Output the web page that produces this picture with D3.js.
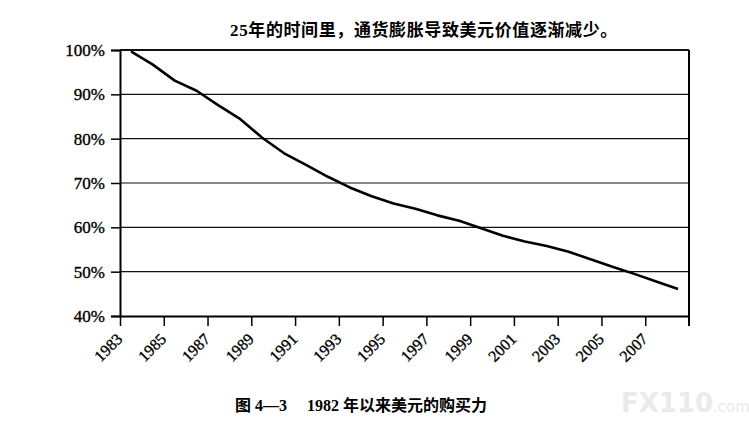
<!DOCTYPE html>
<html>
<head>
<meta charset="utf-8">
<script src="https://cdn.jsdelivr.net/npm/d3@7"></script>
<style>
  html, body { margin: 0; padding: 0; background: #fff; }
  svg { display: block; }
</style>
</head>
<body>
<svg id="chart" width="749" height="428"></svg>
<script>
// ---- data ----
const years = [1983,1984,1985,1986,1987,1988,1989,1990,1991,1992,1993,1994,1995,
               1996,1997,1998,1999,2000,2001,2002,2003,2004,2005,2006,2007,2008];
const purchasingPower = [99.7,96.7,93.1,90.8,87.5,84.4,80.2,76.7,74.1,71.4,69.0,67.0,65.4,
                         64.2,62.7,61.5,59.8,58.1,56.8,55.8,54.5,52.8,51.1,49.5,47.8,46.1];
const xTickYears = [1983,1985,1987,1989,1991,1993,1995,1997,1999,2001,2003,2005,2007];
const yTickValues = [40,50,60,70,80,90,100];
const titleText = "25年的时间里，通货膨胀导致美元价值逐渐减少。";
const captionLabel = "图 4—3";
const captionText = "1982 年以来美元的购买力";

// ---- layout ----
const svg = d3.select("#chart");
const plotLeft = 120, plotRight = 689, plotTop = 50, plotBottom = 316;

const x = d3.scaleLinear().domain([1983, 2009]).range([plotLeft, plotRight]);
const y = d3.scaleLinear().domain([40, 100]).range([plotBottom, plotTop]);

const serif = "'Liberation Serif', 'Times New Roman', serif";
const mixed = "'Liberation Serif', 'Noto Sans CJK SC', serif";

// gridlines
svg.append("g")
  .selectAll("line")
  .data(yTickValues.filter(v => v > 40))
  .join("line")
  .attr("x1", plotLeft).attr("x2", plotRight)
  .attr("y1", d => y(d)).attr("y2", d => y(d))
  .attr("stroke", "#111")
  .attr("stroke-width", d => d === 100 ? 2 : 1.2);

// right border (extends like a tick)
svg.append("line")
  .attr("x1", plotRight).attr("x2", plotRight)
  .attr("y1", plotTop).attr("y2", plotBottom + 10)
  .attr("stroke", "#000").attr("stroke-width", 2);

// y axis
const yAxis = svg.append("g")
  .attr("transform", `translate(${plotLeft},0)`)
  .call(d3.axisLeft(y).tickValues(yTickValues).tickFormat(d => d + "%").tickSize(9).tickPadding(6));
yAxis.select(".domain").attr("stroke", "#000").attr("stroke-width", 2);
yAxis.selectAll(".tick line").attr("stroke", "#000").attr("stroke-width", 1.5);
yAxis.selectAll(".tick text")
  .attr("fill", "#000")
  .style("font-family", serif)
  .style("font-size", "17px")
  .style("font-weight", "normal")
  .style("stroke", "#000")
  .style("stroke-width", "0.35px");

// x axis
const xAxis = svg.append("g")
  .attr("transform", `translate(0,${plotBottom})`)
  .call(d3.axisBottom(x).tickValues(xTickYears).tickFormat(d3.format("d")).tickSize(10).tickSizeOuter(0));
xAxis.select(".domain").attr("stroke", "#000").attr("stroke-width", 2);
xAxis.selectAll(".tick line").attr("stroke", "#000").attr("stroke-width", 1.5);
xAxis.selectAll(".tick text")
  .attr("fill", "#000")
  .style("font-family", serif)
  .style("font-size", "16px")
  .style("font-weight", "normal")
  .style("stroke", "#000")
  .style("stroke-width", "0.35px")
  .attr("text-anchor", "end")
  .attr("dy", null)
  .attr("y", 0)
  .attr("transform", "translate(3,24) rotate(-45)");

// line
const line = d3.line()
  .x((d, i) => x(years[i] + 0.5))
  .y(d => y(d));
svg.append("path")
  .datum(purchasingPower)
  .attr("d", line)
  .attr("fill", "none")
  .attr("stroke", "#000")
  .attr("stroke-width", 2.6)
  .attr("stroke-linejoin", "round");

// title
svg.append("text")
  .attr("x", 424).attr("y", 36)
  .attr("text-anchor", "middle")
  .style("font-family", mixed)
  .style("font-size", "17px")
  .style("font-weight", "bold")
  .style("letter-spacing", "0.6px")
  .text(titleText);

// caption
const cap = svg.append("text")
  .attr("x", 235).attr("y", 411)
  .style("font-family", mixed)
  .style("font-size", "16px")
  .style("font-weight", "bold");
cap.append("tspan").text(captionLabel);
cap.append("tspan").attr("dx", 20).text(captionText);

// watermark
const wm = svg.append("text")
  .attr("x", 621).attr("y", 412)
  .style("font-family", "'DejaVu Sans', sans-serif")
  .attr("fill", "#eaeaea");
wm.append("tspan").style("font-size", "26px").style("font-weight", "bold").text("FX110");
wm.append("tspan").style("font-size", "15px").text(".com");
</script>
</body>
</html>
